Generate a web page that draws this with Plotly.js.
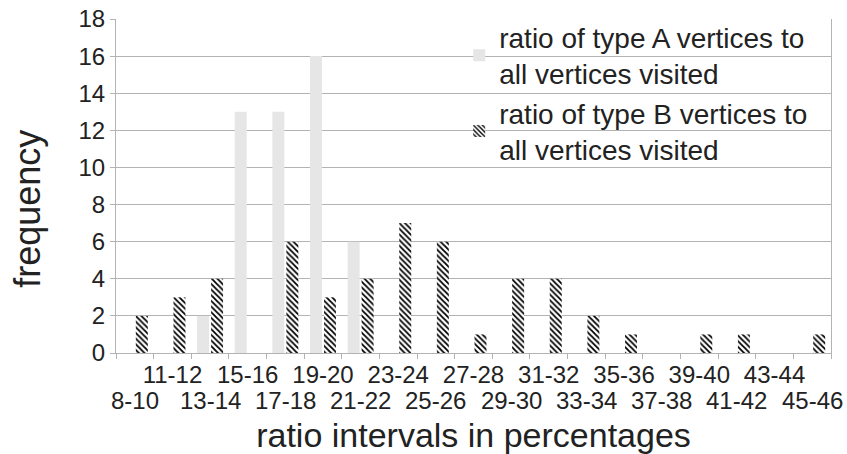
<!DOCTYPE html>
<html><head><meta charset="utf-8">
<script src="https://cdn.plot.ly/plotly-3.0.1.min.js"></script>
<style>html,body{margin:0;padding:0;background:#fff;} #chart{width:847px;height:454px;}</style>
</head><body><div id="chart"></div>
<script>
const categories = ["8-10","11-12","13-14","15-16","17-18","19-20","21-22","23-24","25-26","27-28","29-30","31-32","33-34","35-36","37-38","39-40","41-42","43-44","45-46"];
const typeA = [0,0,2,13,13,16,6,0,0,0,0,0,0,0,0,0,0,0,0];
const typeB = [2,3,4,0,6,3,4,7,6,1,4,4,2,1,0,1,1,0,1];
const seriesNames = ["ratio of type A vertices to<br>all vertices visited","ratio of type B vertices to<br>all vertices visited"];
const yTicks = [0,2,4,6,8,10,12,14,16,18];
const xTitle = "ratio intervals in percentages";
const yTitle = "frequency";

const FONT = "'Liberation Sans', Arial, sans-serif";
// staggered category labels: odd positions on the upper row (axis tick labels),
// even positions on the lower row (placed on the same category scale)
const upperText = categories.map((c,i) => i % 2 === 1 ? c : "");
const lowerCats = categories.filter((c,i) => i % 2 === 0);

const data = [
  {type:"bar", x:categories, y:typeA, name:seriesNames[0],
   marker:{color:"#e6e6e6", line:{width:0}}},
  {type:"bar", x:categories, y:typeB, name:seriesNames[1],
   marker:{color:"#ffffff", line:{width:0},
     pattern:{shape:"\\", fgcolor:"#000000", bgcolor:"#ffffff", size:4, solidity:0.45}}}
];

const annotations = lowerCats.map(c => ({
  text:c, xref:"x", yref:"paper", x:c, y:-0.142, xanchor:"center", yanchor:"middle",
  showarrow:false, borderpad:0, font:{family:FONT, size:24, color:"#222222"}
}));
annotations.push({text:yTitle, xref:"paper", yref:"paper", x:-0.123, y:0.432,
  xanchor:"center", yanchor:"middle", textangle:-90, showarrow:false,
  font:{family:FONT, size:36, color:"#222222"}});

const layout = {
  width:847, height:454,
  margin:{l:116, r:16, t:15, b:101},
  paper_bgcolor:"#ffffff", plot_bgcolor:"#ffffff",
  font:{family:FONT, size:24, color:"#222222"},
  barmode:"group", bargap:0.257, bargroupgap:0.143,
  showlegend:true,
  legend:{x:0.48, xanchor:"left", y:1.02, yanchor:"top", bgcolor:"rgba(0,0,0,0)",
    font:{family:FONT, size:28, color:"#222222"}, tracegroupgap:0, traceorder:"normal"},
  xaxis:{type:"category", range:[-0.5, categories.length - 0.5], autorange:false,
    tickmode:"array", tickvals:categories, ticktext:upperText,
    tickangle:0, tickson:"boundaries", ticks:"outside", ticklen:5, tickcolor:"#b3b3b3",
    showline:true, linecolor:"#b3b3b3", linewidth:1, showgrid:false, zeroline:false,
    tickfont:{family:FONT, size:24, color:"#222222"},
    title:{text:xTitle, font:{family:FONT, size:34, color:"#222222"}, standoff:40}},
  yaxis:{range:[0,18], tickmode:"array", tickvals:yTicks, ticks:"outside", ticklen:5,
    tickcolor:"#b3b3b3", showline:true, mirror:true, linecolor:"#b3b3b3", linewidth:1,
    showgrid:true, gridcolor:"#b3b3b3", gridwidth:1, zeroline:false,
    tickfont:{family:FONT, size:24, color:"#222222"}},
  annotations:annotations
};

Plotly.newPlot("chart", data, layout, {staticPlot:true, displayModeBar:false});
</script></body></html>
